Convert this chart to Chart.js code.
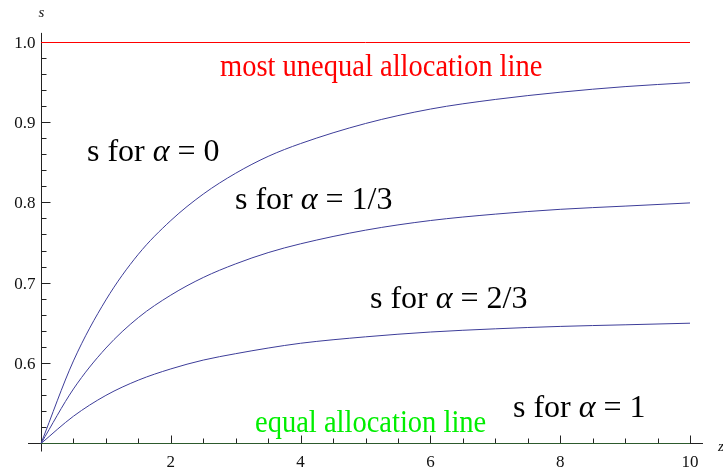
<!DOCTYPE html>
<html>
<head>
<meta charset="utf-8">
<script src="https://cdn.jsdelivr.net/npm/chart.js@4.4.1/dist/chart.umd.min.js"></script>
<style>
  html, body { margin: 0; padding: 0; background: #fff; }
  #wrap { width: 723px; height: 472px; position: relative; }
</style>
</head>
<body>
<div id="wrap"><canvas id="sChart"></canvas></div>
<script>
// values
var zValues      = [0, 0.5, 1, 1.5, 2, 2.5, 3, 3.5, 4, 5, 6, 7, 8, 9, 10];
var sAlpha0      = [0.5, 0.603, 0.679, 0.736, 0.778, 0.811, 0.837, 0.858, 0.874, 0.899, 0.917, 0.929, 0.938, 0.945, 0.950];
var sAlphaThird  = [0.5, 0.568, 0.619, 0.657, 0.685, 0.707, 0.724, 0.738, 0.749, 0.766, 0.778, 0.786, 0.792, 0.796, 0.800];
var sAlphaTwo3   = [0.5, 0.534, 0.560, 0.579, 0.593, 0.604, 0.612, 0.619, 0.625, 0.633, 0.639, 0.643, 0.646, 0.648, 0.650];
var unequalZ     = [0, 10];
var unequalS     = [1.0, 1.0];
var equalZ       = [0, 10];
var equalS       = [0.5, 0.5];

var xMajorTicks  = [2, 4, 6, 8, 10];
var xTickLabels  = ["2", "4", "6", "8", "10"];
var yMajorTicks  = [0.6, 0.7, 0.8, 0.9, 1.0];
var yTickLabels  = ["0.6", "0.7", "0.8", "0.9", "1.0"];

function toPoints(xs, ys){
	var pts = [];
	for (var i = 0; i < xs.length; i++) {
		pts.push({x: xs[i], y: ys[i]});
	}
	return pts;
}

var curveColor = "#3d3d99";
var serif = "'Liberation Serif', 'DejaVu Serif', serif";

function curve(label, xs, ys, color, width){
	return {
		label: label,
		data: toPoints(xs, ys),
		borderColor: color,
		borderWidth: width,
		pointRadius: 0,
		fill: false,
		cubicInterpolationMode: 'monotone',
		clip: false
	};
}

// axes drawn Mathematica-style, crossing at (0, 0.5), ticks pointing inward
var axesPlugin = {
	id: 'axesPlugin',
	beforeDatasetsDraw: function(chart){
		var ctx = chart.ctx;
		var xs = chart.scales.x, ys = chart.scales.y;
		var x0 = Math.round(xs.getPixelForValue(0)) + 0.5;
		var y0 = Math.floor(ys.getPixelForValue(0.5)) + 0.5;
		ctx.save();
		ctx.strokeStyle = "#222";
		ctx.lineWidth = 1;
		ctx.beginPath();
		ctx.moveTo(xs.getPixelForValue(-0.2), y0);
		ctx.lineTo(xs.getPixelForValue(10.2), y0);
		ctx.moveTo(x0, ys.getPixelForValue(0.49));
		ctx.lineTo(x0, ys.getPixelForValue(1.012));
		for (var k = 1; k <= 20; k++) {
			var v = k * 0.5;
			var px = Math.round(xs.getPixelForValue(v)) + 0.5;
			var len = (k % 4 == 0) ? 8 : 5;
			ctx.moveTo(px, y0);
			ctx.lineTo(px, y0 - len);
		}
		for (var j = 1; j <= 25; j++) {
			var vy = 0.5 + j * 0.02;
			var py = Math.floor(ys.getPixelForValue(vy)) + 0.5;
			var leny = (j % 5 == 0) ? 9 : 5;
			ctx.moveTo(x0, py);
			ctx.lineTo(x0 + leny, py);
		}
		ctx.stroke();

		ctx.fillStyle = "#111";
		ctx.font = "17px " + serif;
		ctx.textAlign = "center";
		ctx.textBaseline = "alphabetic";
		for (var a = 0; a < xMajorTicks.length; a++) {
			ctx.fillText(xTickLabels[a], xs.getPixelForValue(xMajorTicks[a]), y0 + 23);
		}
		ctx.textAlign = "right";
		ctx.textBaseline = "middle";
		for (var b = 0; b < yMajorTicks.length; b++) {
			ctx.fillText(yTickLabels[b], x0 - 6, ys.getPixelForValue(yMajorTicks[b]) + 1);
		}

		// axis names
		ctx.font = "italic 15px " + serif;
		ctx.textAlign = "center";
		ctx.textBaseline = "alphabetic";
		ctx.fillText("s", x0, 17);
		ctx.textAlign = "left";
		ctx.fillText("z", 718, y0 + 7);
		ctx.restore();
	}
};

function alphaLabel(ctx, left, base, value){
	ctx.font = "32px " + serif;
	ctx.fillText("s for ", left, base);
	var w = ctx.measureText("s for ").width;
	ctx.font = "italic 32px " + serif;
	ctx.fillText("\u03B1", left + w, base);
	w += ctx.measureText("\u03B1").width;
	ctx.font = "32px " + serif;
	ctx.fillText(" = " + value, left + w, base);
}

function squeezedText(ctx, text, left, base, size, sx){
	ctx.save();
	ctx.translate(left, base);
	ctx.scale(sx, 1);
	ctx.font = size + "px " + serif;
	ctx.fillText(text, 0, 0);
	ctx.restore();
}

var labelPlugin = {
	id: 'labelPlugin',
	afterDraw: function(chart){
		var ctx = chart.ctx;
		ctx.save();
		ctx.textAlign = "left";
		ctx.textBaseline = "alphabetic";
		ctx.fillStyle = "#ff0000";
		squeezedText(ctx, "most unequal allocation line", 220, 76, 31, 0.92);
		ctx.fillStyle = "#00ee00";
		squeezedText(ctx, "equal allocation line", 255, 432, 31, 0.92);
		ctx.fillStyle = "#000";
		alphaLabel(ctx, 87, 161, "0");
		alphaLabel(ctx, 235, 209, "1/3");
		alphaLabel(ctx, 370, 308, "2/3");
		alphaLabel(ctx, 513, 417, "1");
		ctx.restore();
	}
};

var config = {
	type: 'line',
	data: {
		datasets: [
			curve('most unequal allocation line', unequalZ, unequalS, "#ff0000", 1),
			curve('equal allocation line', equalZ, equalS, "#2d5a2d", 1),
			curve('s for alpha = 0', zValues, sAlpha0, curveColor, 1),
			curve('s for alpha = 1/3', zValues, sAlphaThird, curveColor, 1),
			curve('s for alpha = 2/3', zValues, sAlphaTwo3, curveColor, 1)
		]
	},
	options: {
		responsive: true,
		maintainAspectRatio: false,
		animation: false,
		layout: { padding: { left: 41, right: 33, top: 42.5, bottom: 28.5 } },
		plugins: {
			legend: { display: false },
			tooltip: { enabled: false }
		},
		scales: {
			x: { type: 'linear', min: 0, max: 10, display: false },
			y: { type: 'linear', min: 0.5, max: 1.0, display: false }
		}
	},
	plugins: [axesPlugin, labelPlugin]
};

var sChart = new Chart(document.getElementById('sChart'), config);
</script>
</body>
</html>
